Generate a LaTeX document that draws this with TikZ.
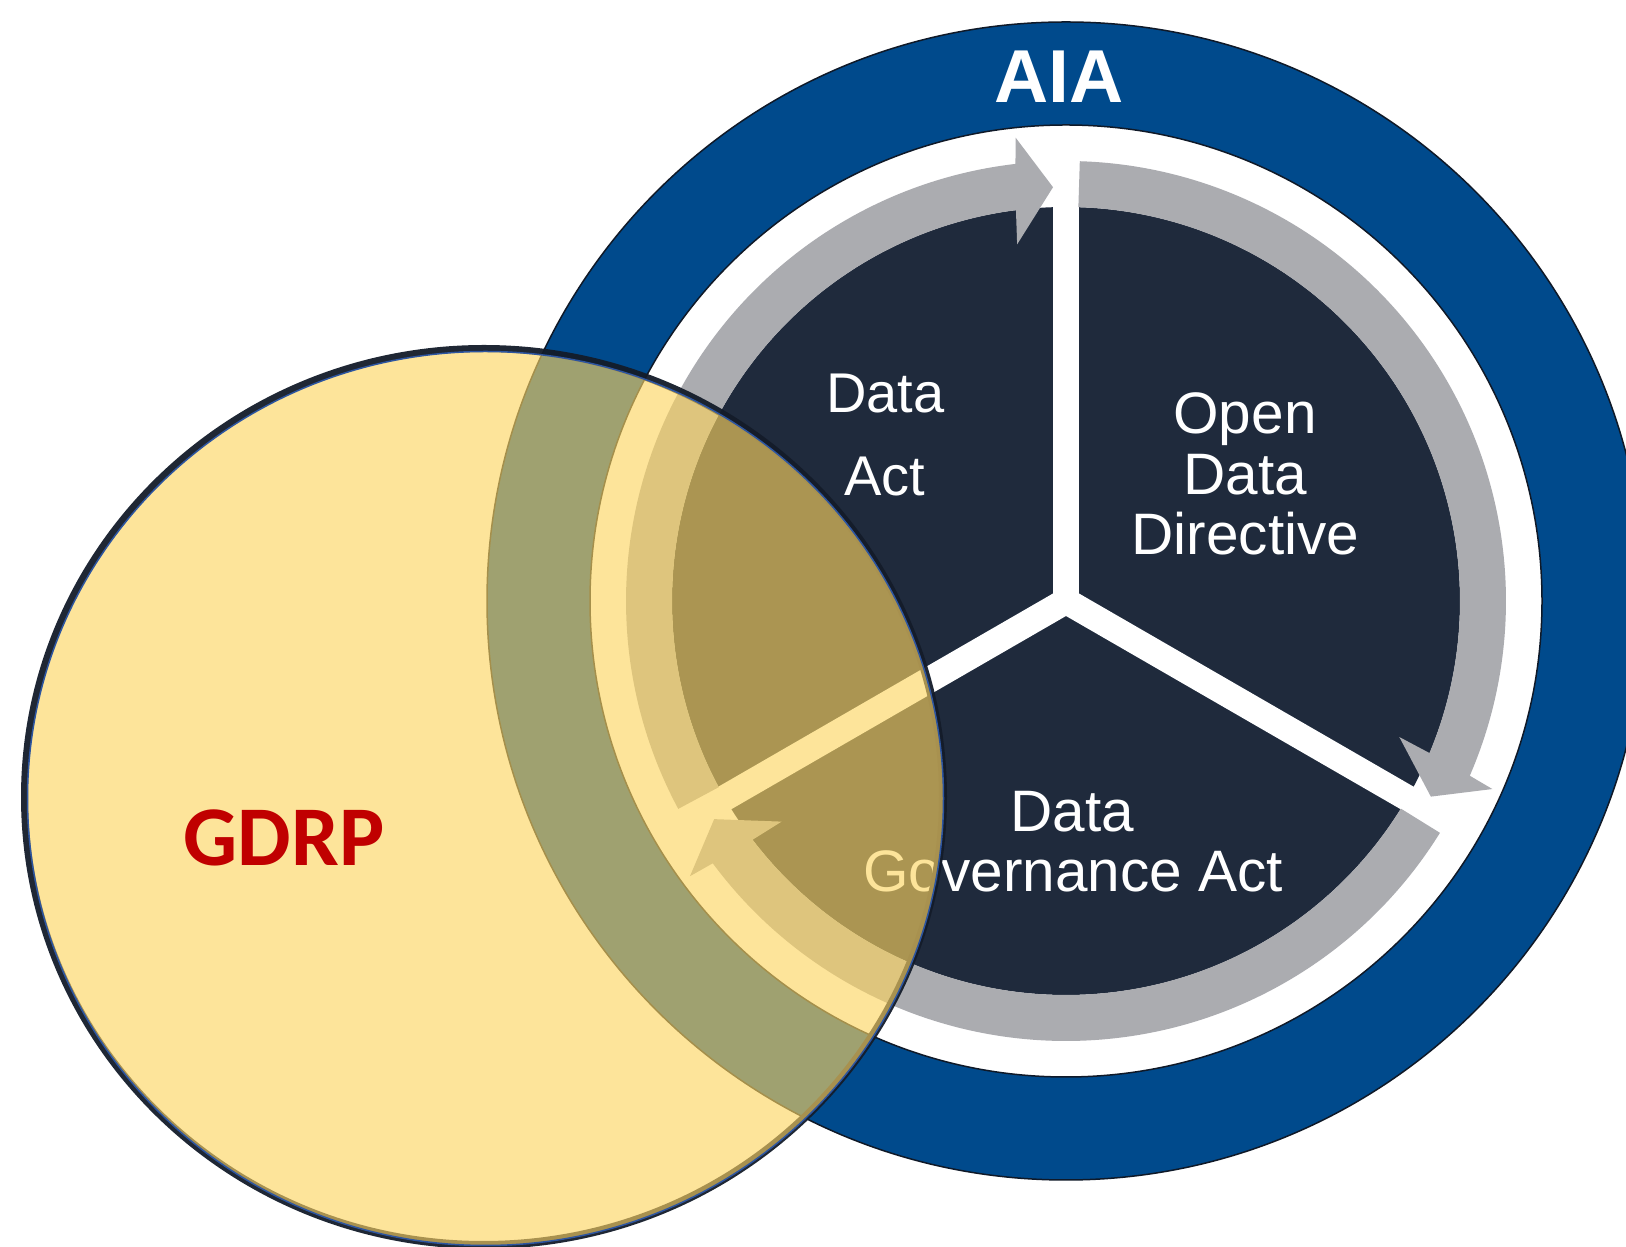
\documentclass[tikz,border=0pt]{standalone}
\usepackage{fontspec}
\setmainfont{Liberation Sans}
\newfontfamily\calibrifont{Carlito}
\definecolor{aiablue}{RGB}{0,74,140}
\definecolor{discdark}{RGB}{31,42,60}
\definecolor{ringgray}{RGB}{171,172,176}
\definecolor{edgedark}{RGB}{15,25,40}
\definecolor{gdrpfill}{RGB}{253,213,96}
\definecolor{gdrpred}{RGB}{192,0,0}
\definecolor{goldrim}{RGB}{168,145,79}
\definecolor{rimblue}{RGB}{45,85,160}
\definecolor{shadowc}{RGB}{20,28,42}
\begin{document}
\begin{tikzpicture}[x=1pt,y=1pt,
  lbl/.style={text=white, inner sep=0pt, anchor=base, font=\fontsize{56}{56}\selectfont},
  lblb/.style={text=white, inner sep=0pt, anchor=base, font=\fontsize{58.5}{58.5}\selectfont},
  sepline/.style={white, line width=26pt, line cap=round},
  grayarrow/.style={fill=ringgray},
  gdrpshape/.style={x radius=458, y radius=447}]
\clip (0,0) rectangle (1626,1247);
\fill[white] (0,0) rectangle (1626,1247);
\coordinate (c) at (1066,646);
% AIA ring
\filldraw[fill=aiablue, draw=edgedark, line width=1.5pt] (c) circle[radius=579];
\filldraw[fill=white, draw=edgedark, line width=1.5pt] (c) circle[radius=476];
\fill[discdark] (c) circle[radius=394];
\begin{scope}[shift={(1066,646)}]
  \coordinate (s1) at (90:450);
  \coordinate (s2) at (-30:450);
  \coordinate (s3) at (210:450);
  \coordinate (o) at (0,0);
  \draw[sepline] (o) -- (s1);
  \draw[sepline] (o) -- (s2);
  \draw[sepline] (o) -- (s3);
  \foreach \st/\e in {208.2/90, 88.2/-30, -31.8/-150} {
    \fill[grayarrow] (\st:440) arc[start angle=\st, end angle=\e+6.6, radius=440]
      -- (\e+6.2:466) -- (\e+1.8:414) -- (\e+7.8:360) -- (\e+7.3:394)
      arc[start angle=\e+7.3, end angle=\st, radius=394] -- cycle;
  }
\end{scope}
% labels
\node[anchor=base, text=white, inner sep=0pt, font=\bfseries\fontsize{75}{75}\selectfont] (aia) at (1059,1144) {AIA};
\node[lbl] (da1) at (885.5,834) {Data};
\node[lbl] (da2) at (885,751) {Act};
\node[lblb] (od1) at (1245,813.5) {Open};
\node[lblb] (od2) at (1245.5,752) {Data};
\node[lblb] (od3) at (1245.5,692) {Directive};
\node[lblb] (dg1) at (1072.5,415) {Data};
\node[lblb] (dg2) at (1073,355) {Governance Act};
% GDRP circle
\begin{scope}[even odd rule]
  \clip (0,0) rectangle (1626,1247) (485.5,448.5) ellipse[gdrpshape];
  \draw[shadowc, line width=8pt, opacity=0.95] (484,450) ellipse[x radius=459, y radius=448];
\end{scope}
\fill[gdrpfill, fill opacity=0.63] (485.5,448.5) ellipse[gdrpshape];
\begin{scope}
  \clip (485.5,448.5) ellipse[gdrpshape];
  \draw[goldrim, line width=5pt] (483.5,450.5) ellipse[gdrpshape];
\end{scope}
\draw[rimblue, line width=1.5pt] (485.5,448.5) ellipse[gdrpshape];
\node[text=gdrpred, anchor=base, inner sep=0pt, font=\calibrifont\bfseries\fontsize{85}{85}\selectfont] (gdrp) at (284,381) {GDRP};
\end{tikzpicture}
\end{document}
